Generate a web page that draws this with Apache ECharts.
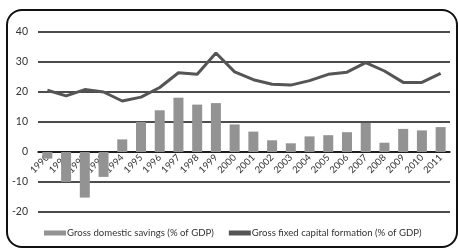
<!DOCTYPE html>
<html>
<head>
<meta charset="utf-8">
<script src="https://cdn.jsdelivr.net/npm/echarts@6/dist/echarts.min.js"></script>
<style>
  html, body { margin: 0; padding: 0; background: #fff; }
  #main { width: 458px; height: 248px; }
</style>
</head>
<body>
<div id="main"></div>
<script>
// data
var years = ['1990','1991','1992','1993','1994','1995','1996','1997','1998','1999','2000',
             '2001','2002','2003','2004','2005','2006','2007','2008','2009','2010','2011'];
var savings = [-2.2, -10, -15.2, -8.3, 4.2, 10, 13.9, 18.1, 15.8, 16.3, 9.2,
               6.8, 3.9, 2.9, 5.2, 5.6, 6.6, 9.7, 3.1, 7.7, 7.2, 8.3];
var capital = [20.6, 18.7, 20.8, 20, 17, 18.3, 21.5, 26.4, 25.9, 33, 26.7,
               24.1, 22.6, 22.3, 23.8, 25.9, 26.6, 29.8, 27, 23.2, 23.2, 26.2];
var savingsName = 'Gross domestic savings (% of GDP)';
var capitalName = 'Gross fixed capital formation (% of GDP)';

var myChart = echarts.init(document.getElementById('main'));

var font = 'Lato';

option = {
    animation: false,
    textStyle: { fontFamily: font },
    // rounded frame round the whole chart
    graphic: [{
        type: 'rect',
        shape: { x: 7, y: 10, width: 450, height: 237, r: 15 },
        style: { fill: 'none', stroke: '#111', lineWidth: 2 },
        silent: true
    }],
    grid: { left: 38, right: 8, top: 32, bottom: 36, containLabel: false },
    legend: {
        top: 228,
        left: 44,
        width: 500,
        padding: 0,
        itemGap: 15,
        itemWidth: 22,
        itemHeight: 5,
        textStyle: { fontSize: 9.6, color: '#333', fontFamily: font, padding: [0, 0, 0, -4] },
        data: [
            { name: savingsName, icon: 'rect' },
            { name: capitalName, icon: 'rect' }
        ]
    },
    xAxis: {
        type: 'category',
        data: years,
        // labels sit on the zero line, 60px above the -20 line
        offset: -60,
        axisLine: { onZero: false, lineStyle: { color: '#111', width: 1.5 } },
        axisTick: { show: false },
        axisLabel: { rotate: 45, fontSize: 9.5, color: '#333', margin: 4, interval: 0 }
    },
    yAxis: {
        type: 'value',
        min: -20,
        max: 40,
        interval: 10,
        axisLine: { show: false },
        axisTick: { show: false },
        axisLabel: { fontSize: 10.5, color: '#333', margin: 10 },
        splitLine: { lineStyle: { color: '#111', width: 1.5 } }
    },
    series: [
        {
            name: savingsName,
            type: 'bar',
            data: savings,
            barWidth: 10,
            itemStyle: { color: '#939393' }
        },
        {
            name: capitalName,
            type: 'line',
            data: capital,
            symbol: 'none',
            lineStyle: { color: '#555', width: 3 },
            itemStyle: { color: '#555' }
        }
    ]
};

myChart.setOption(option);
</script>
</body>
</html>
